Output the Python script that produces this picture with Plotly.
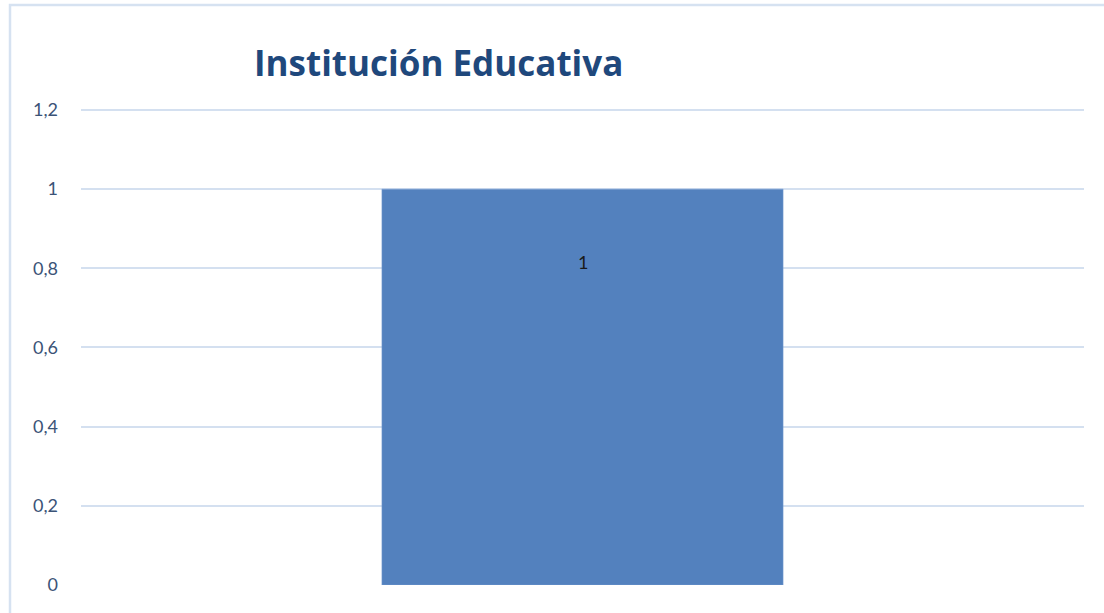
import plotly.graph_objects as go

categories = ["Institución Educativa"]
values = [1]
labels = ["1"]
y_ticks = [0, 0.2, 0.4, 0.6, 0.8, 1.0, 1.2]

W, H = 1104, 613
L, R, T, B = 81, 20, 106, 28
pw = W - L - R
ph = H - T - B
y_top = 1.21

fig = go.Figure()
fig.add_trace(go.Bar(
    x=[0], y=values,
    width=0.4,
    marker=dict(color="#5381be", line=dict(color="#7a9fd2", width=0.5)),
    textposition="none",
    hoverinfo="skip",
))

# data label inside the bar near the top
for i, v in enumerate(values):
    fig.add_annotation(x=i, y=v, xref="x", yref="y", text=labels[i],
                       showarrow=False, yshift=-73,
                       font=dict(family="Lato, Open Sans, sans-serif", size=18, color="#1a1a1a"))

fig.add_annotation(
    text="<b>" + categories[0] + "</b>",
    xref="paper", yref="paper",
    x=(438 - L) / pw, y=(585 - 62) / ph, xanchor="center", yanchor="middle",
    showarrow=False,
    font=dict(family="Open Sans, sans-serif", size=35, color="#1f487c"),
)

# outer chart border
fig.add_shape(type="rect", xref="paper", yref="paper",
              x0=(10 - L) / pw, x1=(1130 - L) / pw,
              y0=-60 / ph, y1=(585 - 5) / ph,
              line=dict(color="#d6e2f1", width=2.5), fillcolor="rgba(0,0,0,0)",
              layer="below")

fig.update_layout(
    width=W, height=H,
    margin=dict(l=L, r=R, t=T, b=B),
    paper_bgcolor="white", plot_bgcolor="white",
    separators=",.",
    showlegend=False,
    xaxis=dict(range=[-0.5, 0.5], showticklabels=False, showgrid=False,
               zeroline=False, showline=False, ticks=""),
    yaxis=dict(range=[0, y_top], tickvals=y_ticks, showgrid=True,
               gridcolor="#d4e0f0", gridwidth=1.5, zeroline=False,
               showline=False, ticks="", ticklabelstandoff=22,
               tickfont=dict(family="Lato, Open Sans, sans-serif", size=18, color="#3b5377")),
)

fig.write_html("out.html", config={"displayModeBar": False},
               post_script="document.body.style.margin='0px';")
